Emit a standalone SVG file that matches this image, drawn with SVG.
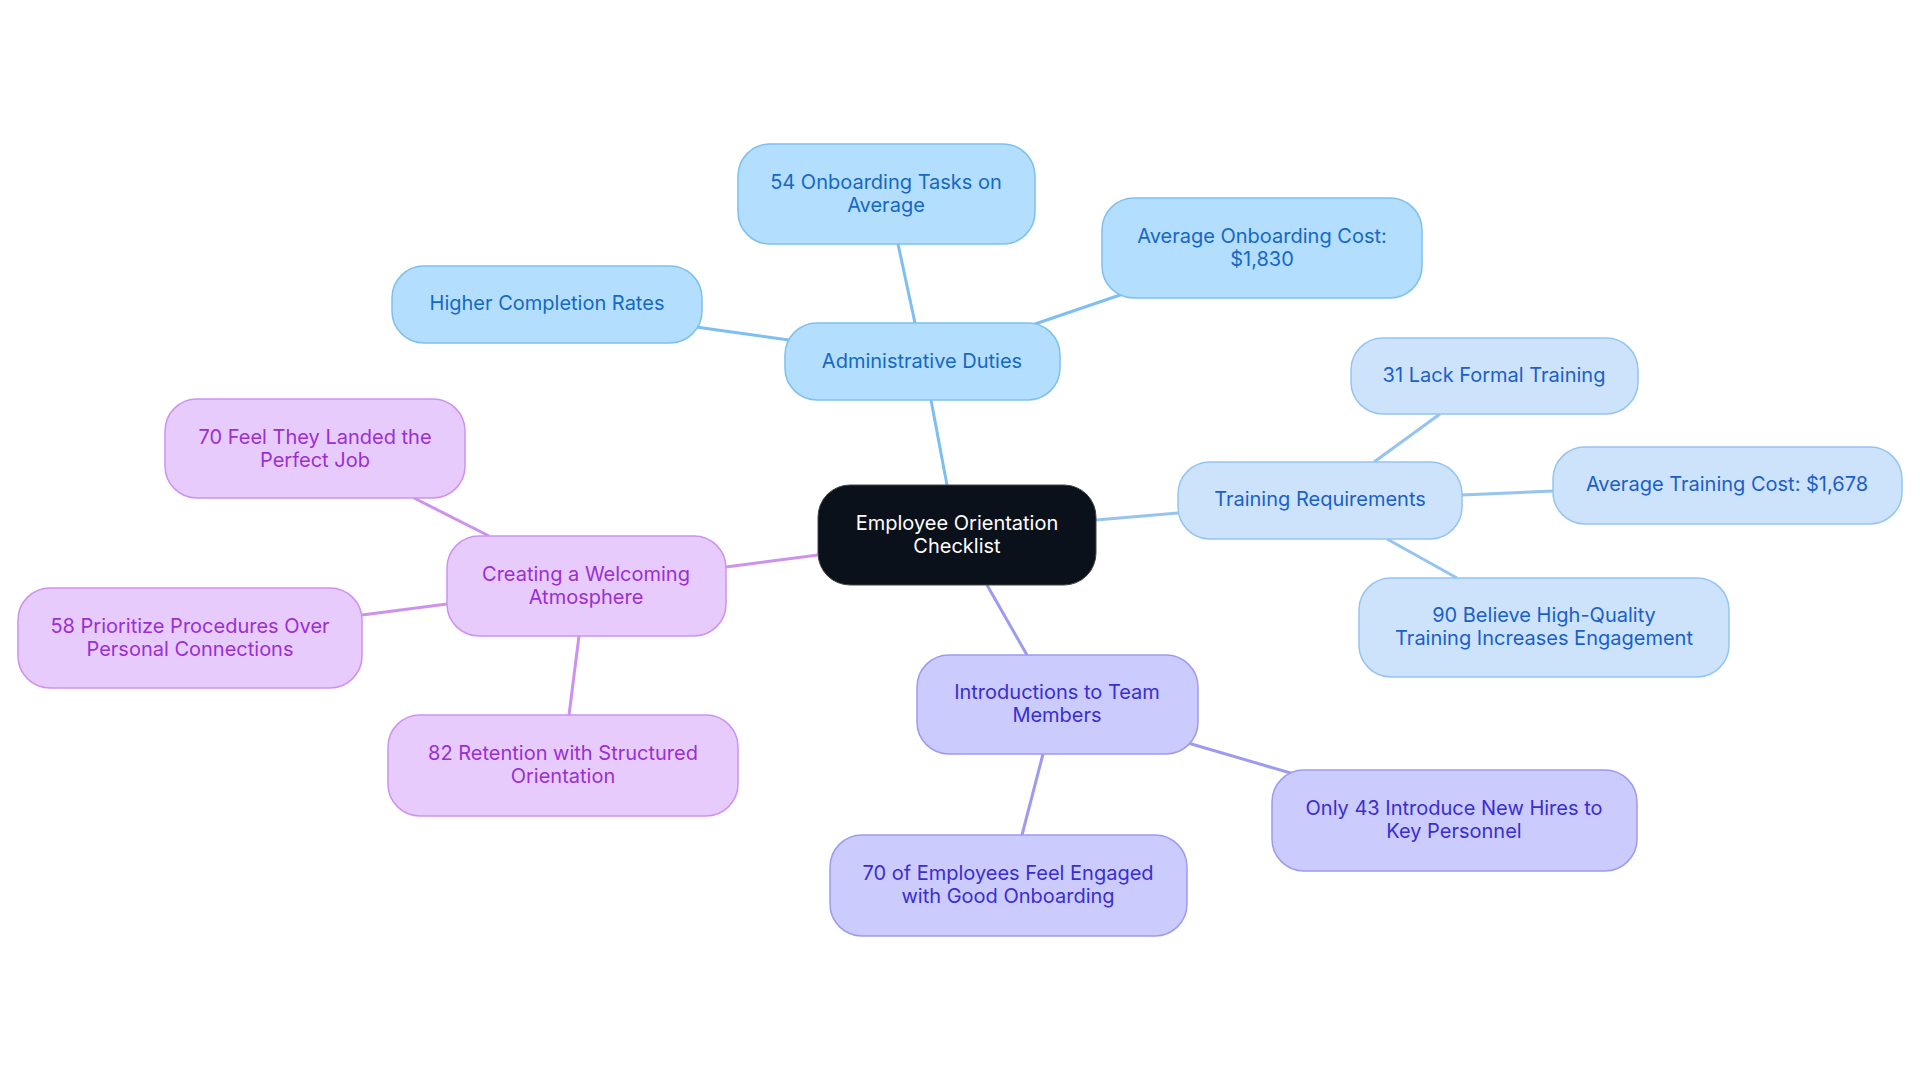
<svg xmlns="http://www.w3.org/2000/svg" width="1920" height="1083" viewBox="0 0 1920 1083">
<style>
text{font-family:Inter,"Noto Sans",sans-serif;font-size:20px;text-anchor:middle}
.c rect{fill:#0b111b;stroke:#444}.c text{fill:#fff}
.b rect{fill:#b4defd;stroke:#7dc0f0;stroke-width:1.5}.b text{fill:#1668c4}
.l rect{fill:#cde3fc;stroke:#95c4f1;stroke-width:1.5}.l text{fill:#1b5fc8}
.i rect{fill:#cbcbfd;stroke:#9d9af0;stroke-width:1.5}.i text{fill:#3a2ed0}
.p rect{fill:#e8cbfd;stroke:#cd92f0;stroke-width:1.5}.p text{fill:#9a2fd2}
#e line{stroke-width:3}
</style>
<rect width="1920" height="1083" fill="#fff"/>
<g id="e">
<g stroke="#7dbff0"><line x1="947" y1="485" x2="931" y2="400"/><line x1="915" y1="323" x2="898" y2="244"/><line x1="1035" y1="324" x2="1123" y2="294"/><line x1="789" y1="340" x2="696" y2="327"/></g>
<g stroke="#95c4f1"><line x1="1096" y1="520" x2="1178" y2="513"/><line x1="1374" y1="462" x2="1440" y2="414"/><line x1="1462" y1="495" x2="1553" y2="491"/><line x1="1387" y1="539" x2="1457" y2="578"/></g>
<g stroke="#9d9af0"><line x1="987" y1="585" x2="1027" y2="655"/><line x1="1188" y1="743" x2="1294" y2="774"/><line x1="1043" y1="754" x2="1022" y2="835"/></g>
<g stroke="#cd92f0"><line x1="818" y1="555" x2="726" y2="567"/><line x1="489" y1="536" x2="414" y2="498"/><line x1="447" y1="604" x2="362" y2="615"/><line x1="579" y1="636" x2="569" y2="715"/></g>
</g>
<g id="center" class="c"><rect x="818" y="485" width="278" height="100" rx="32"/><text x="957" y="530">Employee Orientation</text><text x="957" y="553">Checklist</text></g>
<g id="admin" class="b"><rect x="785" y="323" width="275" height="77" rx="32"/><text x="922" y="368">Administrative Duties</text></g>
<g id="tasks" class="b"><rect x="738" y="144" width="297" height="100" rx="32"/><text x="886" y="189">54 Onboarding Tasks on</text><text x="886" y="212">Average</text></g>
<g id="cost" class="b"><rect x="1102" y="198" width="320" height="100" rx="32"/><text x="1262" y="243">Average Onboarding Cost:</text><text x="1262" y="266">$1,830</text></g>
<g id="higher" class="b"><rect x="392" y="266" width="310" height="77" rx="32"/><text x="547" y="310">Higher Completion Rates</text></g>
<g id="training" class="l"><rect x="1178" y="462" width="284" height="77" rx="32"/><text x="1320" y="506">Training Requirements</text></g>
<g id="lack" class="l"><rect x="1351" y="338" width="287" height="76" rx="32"/><text x="1494" y="382">31 Lack Formal Training</text></g>
<g id="tcost" class="l"><rect x="1553" y="447" width="349" height="77" rx="32"/><text x="1727" y="491">Average Training Cost: $1,678</text></g>
<g id="believe" class="l"><rect x="1359" y="578" width="370" height="99" rx="32"/><text x="1544" y="622">90 Believe High-Quality</text><text x="1544" y="645">Training Increases Engagement</text></g>
<g id="intro" class="i"><rect x="917" y="655" width="281" height="99" rx="32"/><text x="1057" y="699">Introductions to Team</text><text x="1057" y="722">Members</text></g>
<g id="only43" class="i"><rect x="1272" y="770" width="365" height="101" rx="32"/><text x="1454" y="815">Only 43 Introduce New Hires to</text><text x="1454" y="838">Key Personnel</text></g>
<g id="engaged" class="i"><rect x="830" y="835" width="357" height="101" rx="32"/><text x="1008" y="880">70 of Employees Feel Engaged</text><text x="1008" y="903">with Good Onboarding</text></g>
<g id="welcome" class="p"><rect x="447" y="536" width="279" height="100" rx="32"/><text x="586" y="581">Creating a Welcoming</text><text x="586" y="604">Atmosphere</text></g>
<g id="perfect" class="p"><rect x="165" y="399" width="300" height="99" rx="32"/><text x="315" y="444">70 Feel They Landed the</text><text x="315" y="467">Perfect Job</text></g>
<g id="prior" class="p"><rect x="18" y="588" width="344" height="100" rx="32"/><text x="190" y="633">58 Prioritize Procedures Over</text><text x="190" y="656">Personal Connections</text></g>
<g id="retention" class="p"><rect x="388" y="715" width="350" height="101" rx="32"/><text x="563" y="760">82 Retention with Structured</text><text x="563" y="783">Orientation</text></g>
</svg>
